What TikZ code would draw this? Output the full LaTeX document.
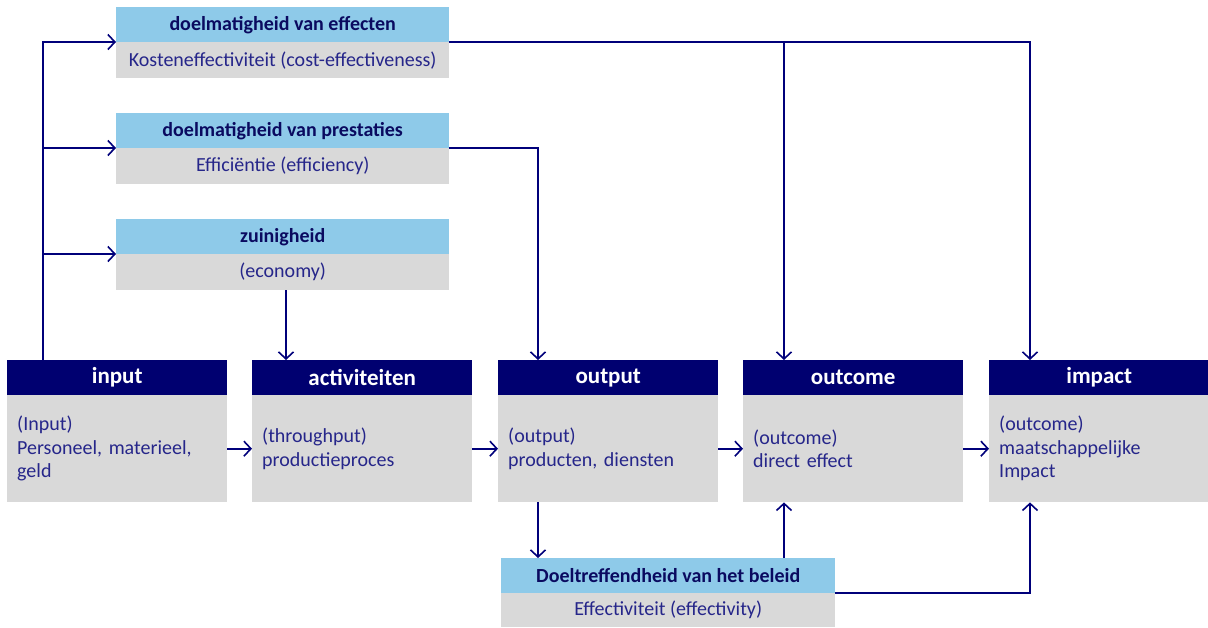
\documentclass[tikz,border=0pt]{standalone}
\usepackage{fontspec}
\setmainfont{Carlito}
\usetikzlibrary{arrows.meta}
\definecolor{navy}{HTML}{000070}
\definecolor{lblue}{HTML}{8ECAE9}
\definecolor{lgray}{HTML}{D9D9D9}
\definecolor{txtblue}{HTML}{26268A}
\definecolor{hdrtxt}{HTML}{0A0A60}
\definecolor{linecol}{HTML}{00007A}
\frenchspacing
\begin{document}
\begin{tikzpicture}[x=1pt,y=-1pt,
  mainhdr/.style={rectangle, fill=navy, text=white, inner sep=0pt, anchor=north west,
    minimum width=220pt, minimum height=35pt, font=\fontsize{23}{26}\selectfont\bfseries},
  mainbody/.style={rectangle, fill=lgray, text=txtblue, inner xsep=10pt, inner ysep=0pt, anchor=north west,
    text width=200pt, align=left, minimum height=107pt, font=\fontsize{20}{23.5}\selectfont},
  tophdr/.style={rectangle, fill=lblue, text=hdrtxt, inner sep=0pt, anchor=north west,
    minimum width=333pt, minimum height=35pt, font=\fontsize{20}{22}\selectfont\bfseries},
  topbody/.style={rectangle, fill=lgray, text=txtblue, inner sep=0pt, anchor=north west,
    minimum width=333pt, minimum height=36pt, font=\fontsize{20}{22}\selectfont},
  conn/.style={draw=linecol, line width=1.6pt},
  arr/.style={conn, -{Straight Barb[length=7pt,width=15pt,line width=1.6pt]}}
]
\useasboundingbox (0,0) rectangle (1208,627);
% top boxes
\node[tophdr] (t1H) at (116,7) {doelmatigheid van effecten};
\node[topbody] (t1B) at (116,42) {Kosteneffectiviteit (cost-effectiveness)};
\node[tophdr] (t2H) at (116,113) {doelmatigheid van prestaties};
\node[topbody] (t2B) at (116,148) {Efficiëntie (efficiency)};
\node[tophdr] (t3H) at (116,219) {zuinigheid};
\node[topbody] (t3B) at (116,254) {(economy)};
% main boxes
\node[mainhdr] (inH) at (7,360) {input};
\node[mainbody] (inB) at (7,395) {(Input)\\Personeel, materieel,\\geld};
\node[mainhdr] (actH) at (252,360) {activiteiten};
\node[mainbody] (actB) at (252,395) {(throughput)\\productieproces};
\node[mainhdr] (outpH) at (498,360) {output};
\node[mainbody] (outpB) at (498,395) {(output)\\producten, diensten};
\node[mainhdr] (outcH) at (743,360) {outcome};
\node[mainbody] (outcB) at (743,395) {(outcome)\\direct effect};
\node[mainhdr] (impH) at (989,360) {impact};
\node[mainbody] (impB) at (989,395) {(outcome)\\maatschappelijke\\Impact};
% bottom box
\node[tophdr, minimum width=334pt] (dtH) at (501,558) {Doeltreffendheid van het beleid};
\node[topbody, minimum width=334pt, minimum height=34pt] (dtB) at (501,593) {Effectiviteit (effectivity)};
% helper coordinates
\coordinate (trunk) at (43,0);
\coordinate (c286) at (286,0);
\coordinate (c538) at (538,0);
\coordinate (c784) at (784,0);
\coordinate (c1030) at (1030,0);
% left trunk
\draw[arr] (inH.north -| trunk) |- (t1B.north west);
\draw[arr] (trunk |- t2B.north west) -- (t2B.north west);
\draw[arr] (trunk |- t3B.north west) -- (t3B.north west);
% top connectors
\draw[arr] (t1B.north east) -| (impH.north -| c1030);
\draw[arr] (t1B.north east -| c784) -- (outcH.north -| c784);
\draw[arr] (t2B.north east) -| (outpH.north -| c538);
\draw[arr] (t3B.south -| c286) -- (actH.north -| c286);
% horizontal flow
\draw[arr] (inB.east) -- (actB.west);
\draw[arr] (actB.east) -- (outpB.west);
\draw[arr] (outpB.east) -- (outcB.west);
\draw[arr] (outcB.east) -- (impB.west);
% bottom connectors
\draw[arr] (outpB.south -| c538) -- (dtH.north -| c538);
\draw[arr] (dtH.north -| c784) -- (outcB.south -| c784);
\draw[arr] (dtB.north east) -| (impB.south -| c1030);
\end{tikzpicture}
\end{document}
